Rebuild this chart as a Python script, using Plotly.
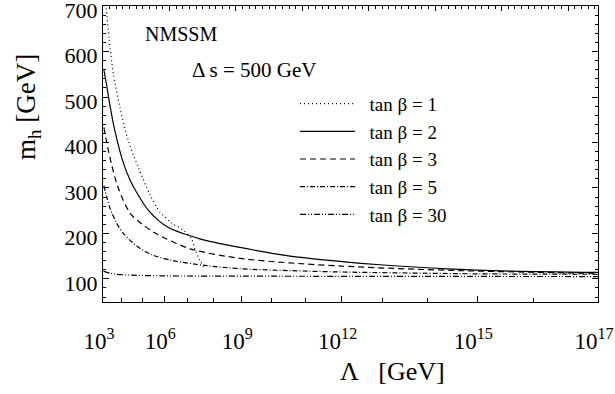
import numpy as np
import plotly.graph_objects as go

# log10(Lambda/GeV) and m_h [GeV]
n_tb1 = [3.08, 3.16, 3.34, 3.55, 3.90, 4.32, 4.81, 5.36, 5.81, 6.32, 6.81, 7.15, 7.28, 7.48, 7.68]
m_tb1 = [730, 700, 625, 552, 477, 404, 345, 285, 247, 223, 207, 188, 166, 140, 122]

n_tb2 = [3.05, 3.20, 3.38, 3.64, 4.07, 4.40, 4.73, 5.30, 6.11, 7.48, 8.95, 10.56, 12.0, 12.95, 14.41, 15.64, 17.0]
m_tb2 = [559, 525, 480, 425, 355, 318, 290, 250, 215, 188, 169, 150, 138, 131, 122, 117, 114]

n_tb3 = [3.05, 3.20, 3.47, 3.81, 4.40, 5.00, 5.66, 7.09, 8.95, 10.56, 12.0, 13.5, 15.0, 17.0]
m_tb3 = [433, 400, 350, 300, 245, 220, 199, 166, 145, 135, 128, 122, 117, 112]

n_tb5 = [3.05, 3.20, 3.38, 3.73, 4.07, 4.50, 4.89, 5.50, 6.39, 7.74, 9.0, 10.56, 12.0, 15.0, 17.0]
m_tb5 = [305, 280, 255, 222, 200, 181, 167, 152, 140, 129, 122, 118, 115, 111, 110]

n_tb30 = [3.03, 3.40, 3.73, 4.50, 6.0, 8.0, 12.0, 17.0]
m_tb30 = [117, 112, 110, 108, 106.5, 106, 105.5, 105]

labels = ["\u2002tan \u03b2 = 1", "\u2002tan \u03b2 = 2", "\u2002tan \u03b2 = 3",
          "\u2002tan \u03b2 = 5", "\u2002tan \u03b2 = 30"]
dashes = ["1px,3px", "solid", "6px,4px", "5px,2px,1px,2px", "6px,2px,1px,2px,1px,2px"]

major_exp = [3, 6, 9, 12, 15, 17]
minor_exp = [4, 5, 7, 8, 10, 11, 13, 14, 16]


def u(n):
    # horizontal coordinate of the original frame
    return 1.0 / (32.0 - np.asarray(n, dtype=float))


fig = go.Figure()
for n, m, lab, d in zip([n_tb1, n_tb2, n_tb3, n_tb5, n_tb30],
                        [m_tb1, m_tb2, m_tb3, m_tb5, m_tb30], labels, dashes):
    fig.add_trace(go.Scatter(x=u(n), y=m, mode="lines", name=lab,
                             line=dict(color="black", width=1.2, dash=d, shape="spline", smoothing=0.8)))
# empty trace so the unlabeled top frame axis is drawn
fig.add_trace(go.Scatter(x=[], y=[], xaxis="x2", yaxis="y", showlegend=False, hoverinfo="skip"))

serif = "Liberation Serif"
eps = 1e-6
fig.update_layout(
    template="none",
    width=615, height=394,
    margin=dict(l=103, r=17, t=6, b=92),
    paper_bgcolor="white", plot_bgcolor="white",
    font=dict(family=serif, color="black", size=19),
    showlegend=True,
    legend=dict(x=0.388, y=0.734, xanchor="left", yanchor="top",
                font=dict(family=serif, size=19, color="black"),
                bgcolor="rgba(0,0,0,0)", itemwidth=55),
    xaxis=dict(range=[float(u(3)) - eps, float(u(17)) + eps], tickmode="array",
               tickvals=[float(v) for v in u(major_exp)],
               ticktext=["10<sup>%d</sup>" % e for e in major_exp],
               ticks="inside", ticklen=6, tickcolor="black", tickwidth=1,
               showline=True, linecolor="black", linewidth=1, mirror=True,
               showgrid=False, zeroline=False, ticklabelstandoff=18,
               ticklabeloverflow="allow", ticklabelshift=-4,
               tickfont=dict(family=serif, size=23, color="black"),
               minor=dict(tickmode="array", tickvals=[float(v) for v in u(minor_exp)],
                          ticks="inside", ticklen=4, tickcolor="black", showgrid=False)),
    xaxis2=dict(overlaying="x", side="top", anchor="y", range=[0, 7.45],
                tickmode="linear", tick0=0, dtick=1, ticks="inside", ticklen=5,
                tickcolor="black", showticklabels=False, showgrid=False, zeroline=False,
                showline=False,
                minor=dict(dtick=0.1, tick0=0, ticks="inside", ticklen=2.5, tickcolor="black", showgrid=False)),
    yaxis=dict(range=[49, 700.3], tickmode="linear", tick0=0, dtick=100,
               ticks="inside", ticklen=6, tickcolor="black",
               showline=True, linecolor="black", linewidth=1, mirror="ticks",
               showgrid=False, zeroline=False, ticklabeloverflow="allow", ticklabelshift=4,
               tickfont=dict(family=serif, size=22, color="black"),
               minor=dict(dtick=20, tick0=0, ticks="inside", ticklen=3, tickcolor="black", showgrid=False)),
    annotations=[
        dict(text="m<sub>h</sub> [GeV]", xref="paper", yref="paper", x=-0.1515, y=0.659,
             xanchor="center", yanchor="middle",
             textangle=-90, showarrow=False, font=dict(family=serif, size=27, color="black")),
        dict(text="\u039b\u00a0\u00a0\u00a0[GeV]", xref="paper", yref="paper", x=0.584, y=-0.236,
             xanchor="center", yanchor="middle",
             showarrow=False, font=dict(family=serif, size=26, color="black")),
        dict(text="NMSSM", xref="paper", yref="paper", x=0.1576, y=0.905,
             xanchor="center", yanchor="middle",
             showarrow=False, font=dict(family=serif, size=20, color="black")),
        dict(text="\u0394 s = 500 GeV", xref="paper", yref="paper", x=0.1758, y=0.784,
             xanchor="left", yanchor="middle", showarrow=False,
             font=dict(family=serif, size=21, color="black")),
    ],
)

fig.write_html("out.html")
